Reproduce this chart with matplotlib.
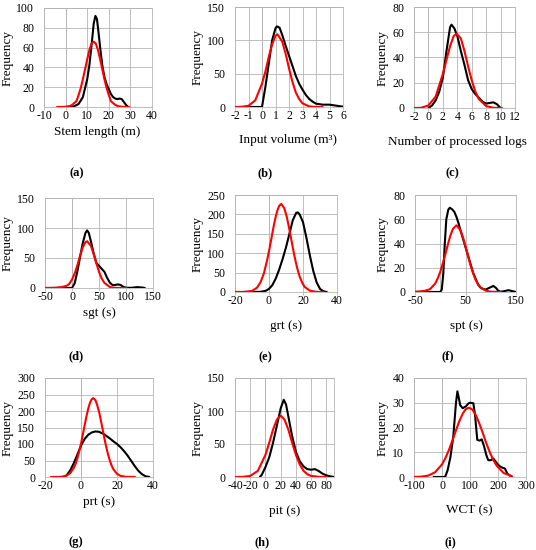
import matplotlib
matplotlib.use("Agg")
import matplotlib.pyplot as plt

plt.rcParams['font.family'] = ['Liberation Serif', 'DejaVu Serif']
plt.rcParams['axes.unicode_minus'] = False

# (a) stem length
a_bx = [0, 2, 4, 6, 8, 10, 11, 12, 13, 13.8, 14.5, 15, 16, 17, 18, 19, 20, 21, 22, 23, 24, 25, 26, 27, 28, 29]
a_by = [0, 0, 0.8, 3, 10, 28, 42, 62, 84, 92, 89, 80, 60, 42, 30, 23, 18, 13, 10, 8.5, 8, 8.5, 8, 5, 2, 0]
a_rx = [-4, 0, 2, 3, 4, 5, 6, 7, 8, 9, 10, 11, 12, 13, 14, 15, 16, 17, 18, 19, 20, 21, 22, 23, 24, 26, 29.5]
a_ry = [0, 0.2, 1, 2.1, 4, 5.8, 12, 19, 28, 38, 48, 57.5, 64, 66, 64, 57.5, 48, 38, 28, 19, 12, 5.8, 4, 2.1, 1, 0.2, 0]

# (b) input volume
b_bx = [-1.6, -0.7, 0, 0.25, 0.5, 0.75, 1.0, 1.1, 1.3, 1.5, 1.75, 2.0, 2.25, 2.5, 2.75, 3.0, 3.25, 3.5, 3.75, 4.0, 4.5, 5.0, 5.5, 6.0]
b_by = [0, 0, 0, 30, 65, 100, 118, 121, 119, 108, 92, 77, 62, 47, 35, 26, 18, 12, 8, 5, 3.5, 3.5, 2, 0.5]
b_rx = [-2, -1.5, -1, -0.5, 0, 0.25, 0.5, 0.75, 1.0, 1.15, 1.5, 1.75, 2.0, 2.25, 2.5, 2.75, 3.0, 3.5, 4.0, 4.5]
b_ry = [0, 0.3, 1.8, 10, 35, 53, 75, 94, 107, 109, 98, 80, 58, 38, 22, 12, 5.5, 0.8, 0.1, 0]

# (c) number of processed logs
c_bx = [0, 0.5, 1, 1.5, 2, 2.5, 3, 3.2, 3.6, 4, 4.5, 5, 5.5, 6, 6.5, 7, 7.5, 8, 8.5, 9, 9.5, 10]
c_by = [0, 2, 6, 13, 24, 45, 64, 66, 63, 57, 45, 34, 22, 15, 11, 8, 5, 3.5, 4, 4.5, 3, 0]
c_rx = [-2, -1, 0, 1, 2, 2.5, 3, 3.5, 3.9, 4.5, 5, 5.5, 6, 6.5, 7, 8, 9, 10.2]
c_ry = [0, 0.2, 2, 9, 27, 38, 49, 57, 59, 55, 45, 33, 22, 13, 7, 1.5, 0.2, 0]

# (d) sgt
d_bx = [-50, -20, 0, 5, 10, 15, 20, 25, 28, 31, 35, 40, 45, 50, 55, 60, 65, 70, 75, 80, 85, 90, 95, 100, 110, 120, 130, 135]
d_by = [0, 0, 0, 8, 28, 52, 75, 92, 96, 92, 78, 58, 42, 37, 32, 27, 17, 9, 5, 5, 6, 5, 2, 0.5, 0.3, 1.5, 0.8, 0]
d_rx = [-50, -30, -20, -10, -5, 0, 5, 10, 15, 20, 25, 28, 35, 40, 45, 50, 55, 60, 70, 80, 100]
d_ry = [0, 0.5, 1.5, 3.5, 7, 14, 24.4, 38, 54, 68, 76.5, 78, 70, 57, 41.4, 27, 15.8, 8.5, 1.7, 0.2, 0]

# (e) grt
e_bx = [-20, -10, -5, -2, 0, 2, 4, 6, 8, 10, 12, 14, 16, 17, 18, 20, 22, 24, 26, 28, 30, 32, 34]
e_by = [0, 0, 0.5, 3, 8, 18, 35, 58, 85, 115, 150, 185, 204, 205, 200, 180, 140, 95, 55, 25, 8, 2, 0]
e_rx = [-20, -15, -10, -7, -5, -3, -1, 0, 1, 2, 3, 4, 5, 6, 7.2, 9, 10.5, 12, 13.5, 15, 16.5, 18, 19.5, 21, 24, 28, 32]
e_ry = [0, 0.2, 2.8, 11.3, 25, 48, 84, 105, 128, 152, 175, 195, 211, 222, 227, 216, 193, 161, 126, 92, 63, 40, 24, 13, 3.5, 0.3, 0]

# (f) spt
f_bx = [-50, -20, 0, 3, 6, 9, 12, 16, 19, 24, 28, 32, 36, 40, 45, 50, 55, 60, 65, 70, 75, 80, 85, 90, 95, 100, 105, 110, 115, 120, 130, 135, 140, 150]
f_by = [0, 0, 0, 2, 15, 40, 60, 68, 69.5, 68, 66, 62, 57, 51, 44, 37, 30, 23, 16, 11, 6, 3.5, 2.5, 2, 3, 4, 5, 3.5, 1, 0.2, 1, 1.5, 1, 0]
f_rx = [-50, -40, -30, -20, -10, -5, 0, 5, 10, 15, 20, 25, 32, 40, 45, 50, 55, 60, 65, 70, 75, 80, 90, 100, 120]
f_ry = [0.2, 0.5, 1, 2.4, 7, 11.2, 16.7, 23.6, 31, 39, 46.5, 52, 55, 51, 45, 37.7, 29.8, 22, 15.5, 10, 6.4, 3.7, 1.1, 0.25, 0]

# (g) prt
g_bx = [-9.9, -8, -6, -4, -2, 0, 2, 4, 6, 8, 10, 12, 14, 16, 18, 20, 22, 24, 26, 28, 30, 32, 34, 36, 38]
g_by = [0, 5, 20, 42, 68, 95, 115, 128, 135, 138, 137, 132, 125, 117, 108, 100, 90, 78, 64, 48, 32, 18, 8, 2, 0]
g_rx = [-16.7, -12, -10, -8, -6, -4, -3, -2, -1, 0, 1, 2, 3, 4, 5, 6, 6.8, 8, 9, 10, 11, 12, 13, 14, 15, 16, 17, 18, 20, 22, 25, 30]
g_ry = [0, 0.4, 1.3, 4.1, 11.5, 27.6, 40, 57, 77.5, 101, 128, 156, 183, 207, 225, 236, 239, 233, 218, 198, 172.6, 145, 117, 91.5, 69, 50, 34.8, 23.5, 9.5, 3.3, 0.5, 0]

# (h) pit
h_bx = [-7.4, -5, 0, 5, 10, 15, 20, 24, 27, 30, 35, 40, 45, 50, 55, 60, 65, 70, 75, 80, 85, 90]
h_by = [0, 3, 15, 30, 52, 78, 104, 117, 110, 92, 62, 38, 24, 16, 12, 11, 12, 9, 5, 2.5, 1, 0]
h_rx = [-40, -30, -20, -10, 0, 5, 10, 15, 20, 25, 30, 35, 40, 45, 50, 55, 60, 70, 80]
h_ry = [0, 0.2, 1.6, 9.3, 33.6, 52, 72, 87, 93, 87, 72, 52, 33.6, 19, 9.3, 4.1, 1.6, 0.2, 0]

# (i) WCT
i_bx = [-30, 0, 11, 20, 30, 40, 50, 55, 60, 65, 74, 85, 95, 100, 112, 118, 126, 134, 142, 150, 158, 165, 175, 183, 190, 200, 207, 215, 225, 233, 249]
i_by = [0, 0, 0, 2.7, 8, 16, 30, 34.6, 32, 29, 27.8, 28.5, 29.8, 30, 29.8, 25, 15, 14.7, 15.2, 12.5, 9, 6.8, 6.8, 7.5, 6.5, 5, 4.3, 3.8, 3.4, 1.4, 0]
i_rx = [-100, -75, -50, -25, 0, 12, 25, 38, 50, 62, 75, 85, 96, 108, 120, 132, 145, 157, 170, 182, 195, 220, 250]
i_ry = [0.02, 0.13, 0.54, 1.87, 5.1, 7.6, 11, 15, 18.9, 22.6, 25.8, 27.4, 28, 27.3, 25.2, 22, 18, 14, 10.2, 7.1, 4.6, 1.6, 0.3]

x_labels = ['Stem length (m)', 'Input volume (m\u00b3)', 'Number of processed logs',
            'sgt (s)', 'grt (s)', 'spt (s)', 'prt (s)', 'pit (s)', 'WCT (s)']
sub_labels = ['(a)', '(b)', '(c)', '(d)', '(e)', '(f)', '(g)', '(h)', '(i)']

W, H = 536, 550
GRID = '#b4b4b4'

# pixel layout: (left, right, top, bottom), xlabel pos, ylabel x, sublabel pos
panels = [
    dict(bx=a_bx, by=a_by, rx=a_rx, ry=a_ry, box=(44, 152, 8, 107), xlim=(-10, 40), xt=range(-10, 41, 10),
         ylim=(0, 100), yt=range(0, 101, 20), xl=(97, 132), yl=8, sl=(77, 173)),
    dict(bx=b_bx, by=b_by, rx=b_rx, ry=b_ry, box=(235, 343, 7, 107), xlim=(-2, 6), xt=range(-2, 7, 1),
         ylim=(0, 150), yt=range(0, 151, 50), xl=(288, 140), yl=198, sl=(265, 173)),
    dict(bx=c_bx, by=c_by, rx=c_rx, ry=c_ry, box=(414, 515, 7, 108), xlim=(-2, 12), xt=range(-2, 13, 2),
         ylim=(0, 80), yt=range(0, 81, 20), xl=(457, 142), yl=383, sl=(452, 173)),
    dict(bx=d_bx, by=d_by, rx=d_rx, ry=d_ry, box=(45, 153, 198, 288), xlim=(-50, 150), xt=range(-50, 151, 50),
         ylim=(0, 150), yt=range(0, 151, 50), xl=(99, 313), yl=8, sl=(76, 356)),
    dict(bx=e_bx, by=e_by, rx=e_rx, ry=e_ry, box=(235, 337, 195, 292), xlim=(-20, 40), xt=range(-20, 41, 20),
         ylim=(0, 250), yt=range(0, 251, 50), xl=(286, 326), yl=198, sl=(265, 357)),
    dict(bx=f_bx, by=f_by, rx=f_rx, ry=f_ry, box=(415, 516, 195, 292), xlim=(-50, 150), xt=range(-50, 151, 100),
         ylim=(0, 80), yt=range(0, 81, 20), xl=(466, 326), yl=383, sl=(448, 356)),
    dict(bx=g_bx, by=g_by, rx=g_rx, ry=g_ry, box=(45, 153, 378, 477), xlim=(-20, 40), xt=range(-20, 41, 20),
         ylim=(0, 300), yt=range(0, 301, 50), xl=(99, 502), yl=8, sl=(76, 542)),
    dict(bx=h_bx, by=h_by, rx=h_rx, ry=h_ry, box=(235, 334, 378, 477), xlim=(-40, 90), xt=range(-40, 81, 20),
         ylim=(0, 150), yt=range(0, 151, 50), xl=(285, 511), yl=198, sl=(262, 542)),
    dict(bx=i_bx, by=i_by, rx=i_rx, ry=i_ry, box=(414, 526, 378, 477), xlim=(-100, 300), xt=range(-100, 301, 100),
         ylim=(0, 40), yt=range(0, 41, 10), xl=(469, 510), yl=383, sl=(450, 542)),
]

fig = plt.figure(figsize=(W / 100, H / 100), dpi=100)

for p, xlab, slab in zip(panels, x_labels, sub_labels):
    l, r, t, b = p['box']
    ax = fig.add_axes([l / W, 1 - b / H, (r - l) / W, (b - t) / H])
    ax.plot(p['bx'], p['by'], color='black', lw=1.5, solid_capstyle='round',
            solid_joinstyle='round', zorder=3)
    ax.plot(p['rx'], p['ry'], color='#ff0000', lw=1.5, solid_capstyle='round',
            solid_joinstyle='round', zorder=4)
    ax.set_xlim(*p['xlim'])
    ax.set_ylim(*p['ylim'])
    ax.set_xticks(list(p['xt']))
    ax.set_yticks(list(p['yt']))
    ax.grid(True, color=GRID, lw=0.6)
    ax.set_axisbelow(True)
    # vertical axis line sits at x = 0
    ax.axvline(0, color=GRID, lw=0.6, zorder=1)
    for s in ax.spines.values():
        s.set_color(GRID)
        s.set_linewidth(0.6)
    ax.tick_params(axis='x', length=2, width=0.6, color=GRID, pad=0.5, labelsize=8.5, direction='out')
    ax.tick_params(axis='y', length=0, pad=7, labelsize=8.5)
    fig.text(p['xl'][0] / W, 1 - p['xl'][1] / H, xlab, ha='center', va='center', fontsize=9.5)
    fig.text(p['yl'] / W, 1 - (t + b) / 2 / H, 'Frequency', ha='center', va='center',
             rotation=90, fontsize=9.5)
    fig.text(p['sl'][0] / W, 1 - p['sl'][1] / H, slab, ha='center', va='center',
             fontsize=9, fontweight='bold')

fig.savefig('out.png', dpi=100)
